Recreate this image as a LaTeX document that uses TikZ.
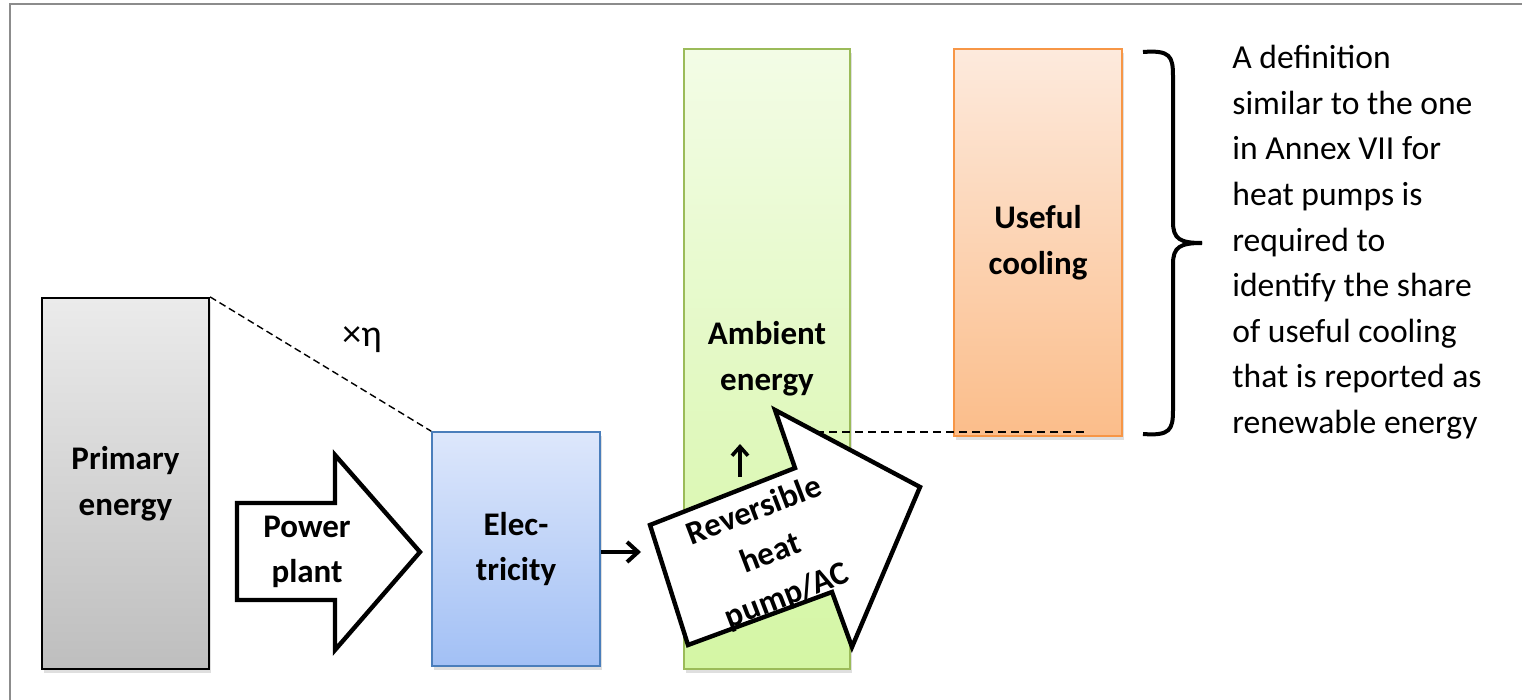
\documentclass[tikz,border=0pt]{standalone}
\usepackage{fontspec}
\setmainfont{Carlito}
\usetikzlibrary{positioning,shadows,arrows.meta,calc}

\definecolor{framegray}{HTML}{8C8C8C}
\definecolor{greyTop}{HTML}{EBEBEB}
\definecolor{greyBot}{HTML}{BEBEBE}
\definecolor{blueTop}{HTML}{DDE7FB}
\definecolor{blueBot}{HTML}{A2C0F5}
\definecolor{blueLine}{HTML}{4A7EBB}
\definecolor{greenTop}{HTML}{F3FCE6}
\definecolor{greenBot}{HTML}{D4F6A4}
\definecolor{greenLine}{HTML}{9BBB59}
\definecolor{orangeTop}{HTML}{FDEADD}
\definecolor{orangeBot}{HTML}{FBBD8A}
\definecolor{orangeLine}{HTML}{F79646}

\begin{document}
\begin{tikzpicture}[x=0.5pt,y=-0.5pt,align=center,font=\fontsize{16.8}{22.8}\selectfont,
  box/.style={draw,line width=0.8pt,inner sep=0pt,font=\fontsize{16.5}{22.8}\selectfont\bfseries,
              drop shadow={shadow xshift=1.2pt,shadow yshift=-2pt,opacity=.25}},
  blockarrow/.style={draw=black,fill=white,line width=2.2pt,line join=miter},
  label/.style={font=\fontsize{16.5}{22.8}\selectfont\bfseries},
  hint/.style={dashed,dash pattern=on 3.5pt off 2pt,line width=0.7pt},
  feed/.style={-{Straight Barb[length=5.5pt,width=10pt,line width=2pt]},line width=2pt}]
\useasboundingbox (0,0) rectangle (1522,700);

%% frame
\draw[framegray,line width=1.1pt] (1522,4) -| (10,700);

%% Input side
\node (Primary) [box,line width=1.1pt,top color=greyTop,bottom color=greyBot,
                 minimum width=83.5pt,minimum height=185.5pt] at (125.5,483.5)
                {Primary\\energy};

\node (Elec) [box,draw=blueLine,top color=blueTop,bottom color=blueBot,
              minimum width=84pt,minimum height=117pt] at (516,549)
              {Elec-\\tricity};
\draw[hint] (Primary.north east) -- (Elec.north west);
\node (Eta) [font=\fontsize{19}{22}\selectfont] at (362,340) {×η};

%% Power plant
\draw[blockarrow] (237,503) -- (335,503) -- (335,455) -- (420,552)
                  -- (335,650) -- (335,600) -- (237,600) -- cycle;
\node (Plant) [label] at (307,552) {Power\\plant};

%% Ambient and useful cooling
\node (Ambient) [box,draw=greenLine,top color=greenTop,bottom color=greenBot,
                 minimum width=83pt,minimum height=310pt] at (767,359)
                 {Ambient\\energy};
\node (Useful) [box,draw=orangeLine,line width=1pt,top color=orangeTop,bottom color=orangeBot,
                minimum width=84pt,minimum height=193.5pt] at (1038,242.5)
                {Useful\\cooling};

%% Reversible heat pump
\draw[blockarrow] (650,525) -- (795,468) -- (775,410) -- (920,487)
                  -- (852,647) -- (832,592) -- (688,645) -- cycle;
\node (Pump) [label,rotate=21] at (771,554) {Reversible\\heat\\pump/AC};

\coordinate (PumpIn) at (641,552);
\draw[feed] (Elec.east |- PumpIn) -- (PumpIn);
\coordinate (UpFoot) at (740,477);
\coordinate (UpTip) at (740,444);
\draw[feed,-{Straight Barb[length=4.5pt,width=8pt,line width=1.8pt]},line width=1.8pt] (UpFoot) -- (UpTip);

\coordinate (CoolEdge) at (816,432);
\coordinate (CoolEnd) at (1088,432);
\draw[hint,dash pattern=on 4pt off 2.5pt] (CoolEdge) -- (CoolEnd);

%% brace and note
\coordinate (BraceTop) at (1143,52);
\coordinate (BraceBot) at (1143,434);
\coordinate (BraceTip) at (1202,243);
\draw[line width=2pt] (BraceTop) .. controls (1170,50) and (1173,56) .. (1173,76) -- (1173,222)
      .. controls (1173,239) and (1180,243) .. (BraceTip);
\draw[line width=2pt] (BraceBot) .. controls (1170,436) and (1173,430) .. (1173,410) -- (1173,264)
      .. controls (1173,247) and (1180,243) .. (BraceTip);

\node (Note) [anchor=north west,align=left,inner sep=0pt] at (1232,45)
      {A definition\\similar to the one\\in Annex VII for\\heat pumps is\\required to\\identify the share\\of useful cooling\\that is reported as\\renewable energy};
\end{tikzpicture}
\end{document}
